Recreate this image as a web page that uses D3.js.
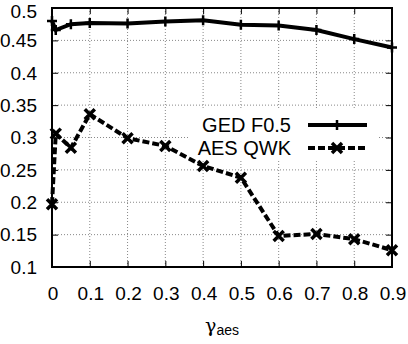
<!DOCTYPE html>
<html><head><meta charset="utf-8">
<script src="https://cdn.jsdelivr.net/npm/d3@7"></script>
<style>body{margin:0;background:#fff}svg{display:block}text{font-family:"Liberation Sans",Arial,sans-serif;fill:#000}</style>
</head><body><svg id="c" width="408" height="344"></svg>
<script>
const xVals = [0, 0.01, 0.05, 0.1, 0.2, 0.3, 0.4, 0.5, 0.6, 0.7, 0.8, 0.9];
const gedF05 = [0.480, 0.466, 0.475, 0.477, 0.476, 0.479, 0.481, 0.474, 0.473, 0.466, 0.452, 0.439];
const aesQWK = [0.197, 0.306, 0.284, 0.336, 0.299, 0.287, 0.256, 0.238, 0.148, 0.151, 0.143, 0.126];
const xTicks = [0, 0.1, 0.2, 0.3, 0.4, 0.5, 0.6, 0.7, 0.8, 0.9];
const yTicks = [0.1, 0.15, 0.2, 0.25, 0.3, 0.35, 0.4, 0.45, 0.5];
const seriesNames = ["GED F0.5", "AES QWK"];

const svg = d3.select("#c");
const L = 52, R = 392, T = 8, B = 267;
const x = d3.scaleLinear().domain([0, 0.9]).range([L, R]);
const y = d3.scaleLinear().domain([0.1, 0.5]).range([B, T]);

// grid
const grid = svg.append("g").attr("stroke", "#888").attr("stroke-width", 1).attr("stroke-dasharray", "1,2");
xTicks.slice(1, -1).forEach(t => grid.append("line").attr("x1", x(t)).attr("x2", x(t)).attr("y1", T).attr("y2", B));
yTicks.slice(1, -1).forEach(t => grid.append("line").attr("x1", L).attr("x2", R).attr("y1", y(t)).attr("y2", y(t)));

// axes with inner ticks
const tl = 6;
svg.append("g").attr("transform", `translate(0,${B})`).call(d3.axisTop(x).tickValues(xTicks).tickSize(tl).tickFormat(""));
svg.append("g").attr("transform", `translate(0,${T})`).call(d3.axisBottom(x).tickValues(xTicks).tickSize(tl).tickFormat(""));
svg.append("g").attr("transform", `translate(${L},0)`).call(d3.axisRight(y).tickValues(yTicks).tickSize(tl).tickFormat(""));
svg.append("g").attr("transform", `translate(${R},0)`).call(d3.axisLeft(y).tickValues(yTicks).tickSize(tl).tickFormat(""));
svg.selectAll(".domain").remove();
svg.selectAll(".tick line").attr("stroke", "#000").attr("stroke-width", 1);

// tick labels
svg.append("g").selectAll("text").data(xTicks).join("text")
  .attr("x", d => x(d) + 1).attr("y", 300).attr("text-anchor", "middle").attr("font-size", 19)
  .text(d => d3.format("")(d));
svg.append("g").selectAll("text").data(yTicks).join("text")
  .attr("x", 37).attr("y", d => Math.max(y(d), 11)).attr("dy", "0.36em").attr("text-anchor", "end").attr("font-size", 19)
  .text(d => d3.format("")(d));

// frame
svg.append("rect").attr("x", L).attr("y", T).attr("width", R - L).attr("height", B - T)
  .attr("fill", "none").attr("stroke", "#000").attr("stroke-width", 2);

// legend background
svg.append("rect").attr("x", 188).attr("y", 110).attr("width", 191).attr("height", 49).attr("fill", "#fff");

const line = d3.line().x(d => x(d[0])).y(d => y(d[1]));
const plus = (cx, cy, s) => `M${cx - s},${cy}h${2 * s}M${cx},${cy - s}v${2 * s}`;
const cross = (cx, cy, s) => `M${cx - s},${cy - s}L${cx + s},${cy + s}M${cx - s},${cy + s}L${cx + s},${cy - s}`;

const ged = xVals.map((v, i) => [v, gedF05[i]]);
const aes = xVals.map((v, i) => [v, aesQWK[i]]);

svg.append("path").datum(aes).attr("d", line).attr("fill", "none").attr("stroke", "#000")
  .attr("stroke-width", 4).attr("stroke-dasharray", "7,3");
svg.append("path").attr("d", aes.map(d => cross(x(d[0]), y(d[1]), 5)).join(""))
  .attr("stroke", "#000").attr("stroke-width", 3.5).attr("fill", "none");

svg.append("path").datum(ged).attr("d", line).attr("fill", "none").attr("stroke", "#000").attr("stroke-width", 4);
svg.append("path").attr("d", ged.map(d => plus(x(d[0]), y(d[1]), 5)).join(""))
  .attr("stroke", "#000").attr("stroke-width", 2.5).attr("fill", "none");

// legend
const ly = [125, 148];
seriesNames.forEach((n, i) => {
  svg.append("text").attr("x", 291).attr("y", ly[i]).attr("dy", "0.36em").attr("text-anchor", "end")
    .attr("font-size", 20).text(n);
  const ln = svg.append("line").attr("x1", 308).attr("x2", 367).attr("y1", ly[i]).attr("y2", ly[i])
    .attr("stroke", "#000").attr("stroke-width", 4);
  if (i === 1) ln.attr("stroke-dasharray", "7,3");
  svg.append("path").attr("d", i === 0 ? plus(337, ly[i], 5) : cross(337, ly[i], 5))
    .attr("stroke", "#000").attr("stroke-width", i === 0 ? 2.5 : 3.5).attr("fill", "none");
});

// x axis label
const xl = svg.append("text").attr("x", 222).attr("y", 332).attr("text-anchor", "middle").attr("font-size", 20);
xl.append("tspan").attr("font-family", "DejaVu Serif, serif").attr("font-size", 19).text("γ");
xl.append("tspan").attr("font-size", 14).attr("dy", 3).text("aes");
</script></body></html>
